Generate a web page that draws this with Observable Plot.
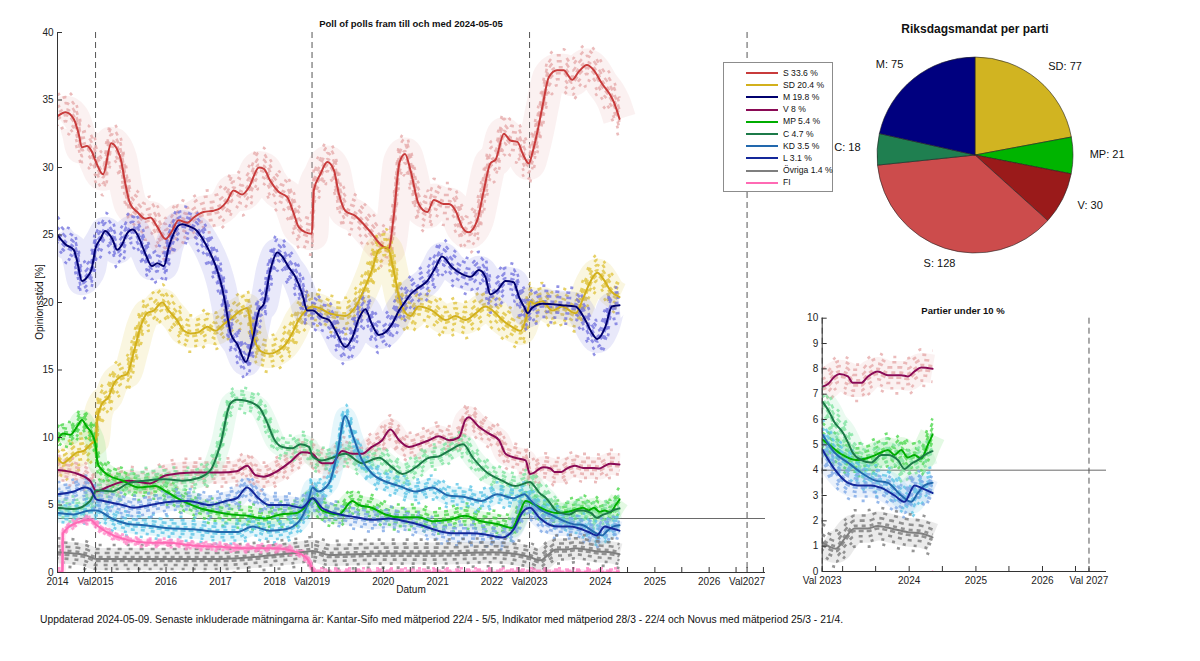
<!DOCTYPE html>
<html><head><meta charset="utf-8">
<script src="https://cdn.jsdelivr.net/npm/d3@7"></script>
<script src="https://cdn.jsdelivr.net/npm/@observablehq/plot@0.6"></script>
<style>
body{margin:0;background:#fff;font-family:"Liberation Sans",Arial,Helvetica,sans-serif;}
#wrap{position:relative;width:1200px;height:661px;overflow:hidden;background:#fff}
.abs{position:absolute;white-space:nowrap;color:#111;line-height:1}
</style></head><body><div id="wrap"></div>
<script>
// ---------- DATA ----------
const parties = ["S","SD","M","V","MP","C","KD","L","Övriga","FI"];
const latest  = [33.6,20.4,19.8,8,5.4,4.7,3.5,3.1,1.4,null];

// trend lines: [decimal year, percent]
const S = [[2014.00,33.8],[2014.15,34.1],[2014.30,33.6],[2014.39,32.5],[2014.45,31.5],[2014.54,31.6],[2014.63,31.2],[2014.70,30.5],[2014.84,29.5],[2014.99,31.8],[2015.16,30.7],[2015.25,28.8],[2015.34,27.3],[2015.47,26.7],[2015.62,26.2],[2015.71,26.3],[2015.84,25.6],[2015.99,24.7],[2016.11,25.3],[2016.23,26.1],[2016.39,25.9],[2016.51,26.3],[2016.69,26.7],[2016.87,26.8],[2017.00,27.0],[2017.12,27.5],[2017.24,28.3],[2017.40,28.0],[2017.52,28.5],[2017.71,30.0],[2017.80,29.9],[2017.92,29.0],[2018.07,28.2],[2018.23,27.8],[2018.35,26.6],[2018.44,25.6],[2018.57,25.2],[2018.685,25.1],[2018.72,28.3],[2018.84,29.5],[2018.97,30.4],[2019.09,29.8],[2019.18,28.1],[2019.30,26.8],[2019.49,26.4],[2019.64,25.8],[2019.79,25.1],[2019.95,24.3],[2020.10,24.0],[2020.19,26.3],[2020.30,30.4],[2020.40,31.0],[2020.50,29.8],[2020.65,27.3],[2020.81,26.7],[2020.93,27.6],[2021.11,27.3],[2021.21,27.3],[2021.33,26.8],[2021.45,25.6],[2021.57,25.2],[2021.73,26.1],[2021.85,28.3],[2021.97,30.3],[2022.07,30.6],[2022.22,32.5],[2022.34,32.0],[2022.47,31.9],[2022.57,31.0],[2022.68,30.3],[2022.74,31.0],[2022.83,32.5],[2022.93,34.5],[2023.05,36.7],[2023.20,37.2],[2023.32,37.2],[2023.48,36.5],[2023.60,37.1],[2023.75,37.6],[2023.88,37.2],[2024.03,36.2],[2024.16,35.5],[2024.25,34.8],[2024.35,33.6]];
const SD = [[2014.00,8.5],[2014.10,8.1],[2014.24,8.5],[2014.36,8.9],[2014.48,9.0],[2014.61,9.5],[2014.70,9.8],[2014.74,11.5],[2014.82,12.5],[2014.94,13.0],[2015.04,14.0],[2015.16,14.5],[2015.28,14.7],[2015.41,16.4],[2015.53,18.2],[2015.65,19.2],[2015.77,19.4],[2015.93,20.0],[2016.05,19.4],[2016.20,18.7],[2016.33,17.9],[2016.45,17.7],[2016.60,17.8],[2016.76,18.2],[2016.91,17.9],[2017.06,18.4],[2017.22,18.9],[2017.37,19.4],[2017.49,19.6],[2017.59,17.7],[2017.74,16.4],[2017.90,16.2],[2018.05,16.4],[2018.20,16.9],[2018.32,17.7],[2018.44,18.7],[2018.57,19.4],[2018.69,19.7],[2018.87,19.5],[2019.00,19.2],[2019.30,19.0],[2019.49,19.7],[2019.64,20.9],[2019.79,22.4],[2019.92,23.9],[2020.04,24.1],[2020.10,23.9],[2020.19,22.4],[2020.29,20.4],[2020.38,19.4],[2020.50,19.0],[2020.65,19.7],[2020.90,19.4],[2021.15,18.7],[2021.33,19.0],[2021.51,18.7],[2021.70,19.2],[2021.88,19.7],[2022.07,19.2],[2022.19,18.7],[2022.37,18.2],[2022.53,17.9],[2022.62,18.7],[2022.71,20.1],[2022.78,19.9],[2022.93,20.1],[2023.11,19.4],[2023.29,19.7],[2023.54,19.2],[2023.69,20.4],[2023.82,21.6],[2023.94,22.2],[2024.06,21.7],[2024.18,20.9],[2024.35,20.4]];
const M = [[2014.00,25.0],[2014.15,24.3],[2014.30,23.9],[2014.36,23.1],[2014.45,21.6],[2014.55,21.9],[2014.63,22.5],[2014.70,24.0],[2014.79,24.7],[2014.88,25.3],[2015.01,24.7],[2015.10,23.9],[2015.19,24.3],[2015.28,25.1],[2015.39,25.4],[2015.50,24.8],[2015.62,23.6],[2015.74,22.7],[2015.84,22.9],[2015.96,22.7],[2016.05,24.1],[2016.14,25.1],[2016.23,25.7],[2016.30,25.8],[2016.45,25.6],[2016.57,25.3],[2016.69,24.6],[2016.82,23.6],[2016.94,22.4],[2017.03,21.1],[2017.09,19.9],[2017.19,17.7],[2017.31,16.9],[2017.47,15.6],[2017.59,17.2],[2017.71,19.4],[2017.80,19.9],[2017.92,22.4],[2018.05,23.7],[2018.14,23.4],[2018.26,22.6],[2018.38,21.9],[2018.51,20.6],[2018.60,19.4],[2018.70,19.4],[2018.87,18.9],[2019.00,18.7],[2019.12,17.9],[2019.30,16.7],[2019.43,17.4],[2019.55,18.8],[2019.67,19.5],[2019.79,18.4],[2019.92,17.6],[2020.04,17.8],[2020.16,18.4],[2020.29,19.4],[2020.41,20.1],[2020.50,20.6],[2020.65,21.1],[2020.81,21.6],[2020.96,22.6],[2021.08,23.4],[2021.27,22.6],[2021.45,22.1],[2021.61,21.9],[2021.76,22.4],[2021.88,21.9],[2021.97,20.6],[2022.10,20.9],[2022.25,21.6],[2022.40,21.5],[2022.50,20.4],[2022.59,19.7],[2022.66,19.2],[2022.74,19.6],[2022.93,19.9],[2023.29,19.8],[2023.54,19.7],[2023.72,18.7],[2023.85,17.7],[2023.94,17.3],[2024.09,18.2],[2024.21,19.7],[2024.35,19.8]];
const V = [[2014.00,7.6],[2014.30,7.4],[2014.60,6.8],[2014.72,6.0],[2014.90,6.3],[2015.30,6.8],[2015.70,6.6],[2016.00,7.2],[2016.50,7.4],[2017.00,7.4],[2017.30,7.5],[2017.49,7.9],[2017.65,7.2],[2017.80,7.1],[2018.00,7.4],[2018.29,8.2],[2018.51,8.9],[2018.69,8.8],[2018.87,8.1],[2019.06,8.1],[2019.24,9.0],[2019.43,8.8],[2019.61,8.8],[2019.79,9.3],[2019.98,9.8],[2020.13,10.6],[2020.29,9.8],[2020.47,9.3],[2020.65,9.5],[2020.84,9.8],[2021.02,10.1],[2021.21,9.8],[2021.39,10.0],[2021.51,11.3],[2021.57,11.5],[2021.76,10.8],[2021.94,10.3],[2022.13,9.8],[2022.25,8.8],[2022.43,8.5],[2022.62,8.3],[2022.70,7.3],[2022.78,7.4],[2022.88,7.7],[2022.95,7.8],[2023.08,7.7],[2023.15,7.45],[2023.28,7.45],[2023.38,7.7],[2023.53,7.9],[2023.68,7.75],[2023.88,7.75],[2023.98,7.7],[2024.08,7.9],[2024.18,8.05],[2024.35,8.0]];
const MP = [[2014.00,9.8],[2014.10,10.3],[2014.24,10.2],[2014.36,10.8],[2014.45,11.3],[2014.54,10.8],[2014.63,10.3],[2014.70,9.5],[2014.74,8.1],[2014.82,7.6],[2014.94,7.2],[2015.20,6.8],[2015.50,6.3],[2015.80,6.4],[2016.00,6.0],[2016.30,5.3],[2016.60,4.8],[2016.90,4.5],[2017.20,4.3],[2017.50,4.2],[2017.80,4.0],[2018.10,4.3],[2018.40,4.4],[2018.60,5.0],[2018.70,5.5],[2018.87,4.6],[2019.18,4.3],[2019.43,5.3],[2019.55,5.0],[2019.79,4.8],[2020.04,4.3],[2020.29,4.1],[2020.65,4.1],[2020.90,3.8],[2021.20,3.9],[2021.50,4.2],[2021.80,3.8],[2022.10,3.6],[2022.37,3.3],[2022.50,4.3],[2022.62,5.3],[2022.70,5.2],[2022.80,5.0],[2023.00,4.6],[2023.20,4.4],[2023.40,4.5],[2023.58,4.7],[2023.68,4.8],[2023.78,4.6],[2023.88,4.8],[2023.98,4.5],[2024.08,4.6],[2024.18,4.45],[2024.28,5.0],[2024.35,5.4]];
const C = [[2014.00,4.8],[2014.30,4.7],[2014.60,5.3],[2014.72,6.1],[2015.00,6.0],[2015.30,6.6],[2015.60,6.8],[2016.00,6.9],[2016.30,6.8],[2016.60,7.0],[2016.82,7.6],[2017.00,9.5],[2017.18,12.5],[2017.30,12.8],[2017.49,12.7],[2017.72,12.2],[2017.85,11.2],[2018.00,9.8],[2018.14,9.3],[2018.32,9.2],[2018.48,9.5],[2018.63,9.3],[2018.70,8.6],[2018.87,8.3],[2019.06,8.5],[2019.30,8.8],[2019.61,8.1],[2019.92,8.5],[2020.16,7.8],[2020.35,7.3],[2020.60,7.8],[2020.84,8.5],[2021.02,8.6],[2021.20,9.0],[2021.47,9.5],[2021.65,8.5],[2021.88,7.5],[2022.19,6.8],[2022.43,6.4],[2022.70,6.7],[2022.80,6.3],[2022.875,5.9],[2023.00,5.5],[2023.08,5.1],[2023.15,4.7],[2023.28,4.4],[2023.43,4.3],[2023.58,4.6],[2023.68,4.6],[2023.83,4.4],[2023.93,4.05],[2024.03,4.25],[2024.13,4.4],[2024.23,4.6],[2024.35,4.75]];
const KD = [[2014.00,4.4],[2014.30,4.3],[2014.60,4.6],[2014.72,4.6],[2015.00,4.0],[2015.30,3.6],[2015.60,3.5],[2016.00,3.3],[2016.50,3.2],[2017.00,3.0],[2017.30,3.0],[2017.60,3.4],[2017.90,3.1],[2018.20,3.2],[2018.45,3.8],[2018.60,5.0],[2018.70,6.3],[2018.80,6.0],[2019.00,6.6],[2019.15,8.8],[2019.30,11.6],[2019.45,10.0],[2019.60,8.4],[2019.80,7.3],[2020.00,6.8],[2020.30,6.4],[2020.60,6.0],[2020.90,6.3],[2021.20,5.7],[2021.50,5.6],[2021.80,5.3],[2022.10,5.8],[2022.40,5.5],[2022.60,5.8],[2022.70,5.4],[2022.875,4.7],[2023.08,4.3],[2023.28,3.9],[2023.48,3.6],[2023.68,3.5],[2023.88,3.0],[2024.03,2.75],[2024.13,3.1],[2024.23,3.4],[2024.35,3.5]];
const L = [[2014.00,5.8],[2014.30,6.0],[2014.50,6.3],[2014.60,6.2],[2014.72,5.4],[2014.85,5.3],[2015.20,5.0],[2015.41,4.8],[2015.71,5.0],[2016.00,5.2],[2016.40,5.3],[2016.80,5.0],[2017.10,5.3],[2017.30,5.5],[2017.49,6.3],[2017.70,5.5],[2017.90,5.0],[2018.20,5.0],[2018.50,4.8],[2018.70,5.5],[2018.87,4.8],[2019.20,4.3],[2019.50,4.1],[2019.80,3.9],[2020.10,4.0],[2020.40,3.8],[2020.70,3.5],[2021.00,3.1],[2021.30,2.9],[2021.60,2.9],[2021.90,2.8],[2022.19,2.6],[2022.40,3.2],[2022.57,4.5],[2022.70,4.8],[2022.875,4.05],[2023.08,3.5],[2023.23,3.4],[2023.43,3.4],[2023.58,3.3],[2023.78,3.0],[2023.93,2.75],[2024.08,3.4],[2024.18,3.3],[2024.35,3.1]];
const OV = [[2014.00,1.5],[2014.50,1.3],[2014.72,1.0],[2015.00,1.0],[2016.00,1.0],[2017.00,1.0],[2018.00,1.3],[2018.50,1.5],[2018.70,1.6],[2019.00,1.3],[2020.00,1.4],[2021.00,1.4],[2022.00,1.5],[2022.70,1.15],[2022.825,0.95],[2022.90,0.9],[2023.03,1.3],[2023.18,1.7],[2023.38,1.7],[2023.53,1.8],[2023.73,1.7],[2023.98,1.55],[2024.18,1.5],[2024.35,1.35]];
const FI = [[2014.00,0],[2014.09,0],[2014.10,2.9],[2014.36,3.7],[2014.60,3.9],[2014.72,3.5],[2015.00,2.8],[2015.30,2.4],[2015.70,2.2],[2016.00,2.2],[2016.50,2.0],[2017.00,1.9],[2017.50,1.8],[2018.00,1.8],[2018.40,1.5],[2018.60,1.0],[2018.75,0],[2024.35,0]];

const electionDates = ["2014-09-14","2018-09-09","2022-09-11","2026-09-13"];
const mainTickDates = ["2014-01-01","2014-09-14","2016-01-01","2017-01-01","2018-01-01","2018-09-09","2020-01-01","2021-01-01","2022-01-01","2022-09-11","2024-01-01","2025-01-01","2026-01-01","2026-09-13"];
const mainTickLabels = ["2014","Val2015","2016","2017","2018","Val2019","2020","2021","2022","Val2023","2024","2025","2026","Val2027"];
const smallTickDates = ["2022-09-11","2024-01-01","2025-01-01","2026-01-01","2026-09-13"];
const smallTickLabels = ["Val 2023","2024","2025","2026","Val 2027"];
const mainYTicks = [0,5,10,15,20,25,30,35,40];
const smallYTicks = [0,1,2,3,4,5,6,7,8,9,10];

const seatParties = ["SD","MP","V","S","C","M"];
const seats = [77,21,30,128,18,75];
const seatColors = ["#d1b421","#00b400","#9a1a1a","#cc4c4c","#1f7f50","#00007f"];

// ---------- STYLE ----------
const lineColor = {S:"#c83b3b",SD:"#d2b01c",M:"#00006e",V:"#8a0a55",MP:"#00ad00",C:"#1c7a48",KD:"#2268ad",L:"#14289a","Övriga":"#7f7f7f",FI:"#ff6ab4"};
const dotColor  = {S:"#e6aaaa",SD:"#e0c440",M:"#7676de",V:"#e6aaaa",MP:"#4ed84e",C:"#7fe3a0",KD:"#5cc6e6",L:"#7da8e6","Övriga":"#7a7a7a",FI:"#ff8ac8"};
const spread    = {S:1.5,SD:1.3,M:1.3,V:1.0,MP:0.9,C:0.9,KD:0.85,L:0.85,"Övriga":1.0,FI:0.3};
const dashSpec  = [[-14,"3,11",0],[-10,"4,7",5],[-6,"5,5",2],[-2,"4,4",6],[2,"5,3",1],[6,"4,6",3],[10,"3,8",7],[14,"3,12",4]];
const dataBy = {S,SD,M,V,MP,C,KD,L,"Övriga":OV,FI};
const FONT = "Liberation Sans, Arial, Helvetica, sans-serif";

function toDate(y){const yr=Math.floor(y);const a=Date.UTC(yr,0,1),b=Date.UTC(yr+1,0,1);return new Date(a+(y-yr)*(b-a));}
const rows = {};
for (const p of parties) rows[p] = dataBy[p].map(([t,v])=>({party:p,t,date:toDate(t),value:v}));

const wrap = document.getElementById("wrap");
function addText(txt, css){const d=document.createElement("div");d.className="abs";d.textContent=txt;Object.assign(d.style,css);wrap.appendChild(d);return d;}
function halfYears(a,b){const out=[];for(let y=a;y<=b;y++){out.push(new Date(Date.UTC(y,0,1)));out.push(new Date(Date.UTC(y,6,1)));}return out;}

function buildChart({width,height,ml,mr,mt,mb,xDomain,yDomain,ticksX,labelDates,labels,yTicks,filterFrom,lineW,bandScale}){
  const pw = width-ml-mr, ph = height-mt-mb;
  const elections = electionDates.map(d=>new Date(d));
  const marks = [
    Plot.ruleY([4],{stroke:"#6a6a6a",strokeWidth:1}),
    Plot.ruleX(elections.filter(d=>d>=xDomain[0]&&d<=xDomain[1]),{stroke:"#555",strokeDasharray:"6,4",strokeWidth:1})
  ];
  // soft cloud of poll marks around each trend
  for (const p of parties){
    const r = rows[p].filter(d=>d.date>=filterFrom);
    marks.push(Plot.line(r,{x:"date",y:"value",stroke:dotColor[p],strokeWidth:22*spread[p]*bandScale,strokeOpacity:0.16,strokeLinecap:"butt",curve:"monotone-x",clip:true}));
    for (const [off,dash,dofs] of dashSpec){
      marks.push(Plot.line(r,{x:"date",y:"value",dy:off*spread[p]*bandScale,stroke:dotColor[p],strokeWidth:2.6,strokeOpacity:0.8,strokeLinecap:"butt",strokeDasharray:dash,strokeDashoffset:dofs,curve:"monotone-x",clip:true}));
    }
  }
  for (const p of parties){
    const r = rows[p].filter(d=>d.date>=filterFrom);
    marks.push(Plot.line(r,{x:"date",y:"value",stroke:lineColor[p],strokeWidth:lineW,curve:"monotone-x",clip:true}));
  }
  const labelMap = new Map(labelDates.map((d,i)=>[+new Date(d),labels[i]]));
  marks.push(
    Plot.ruleX([xDomain[0]],{stroke:"#333"}),
    Plot.ruleY([yDomain[0]],{stroke:"#333"}),
    Plot.tickX(ticksX,{x:d=>d,insetTop:ph-5,stroke:"#333"}),
    Plot.tickY(yTicks,{y:d=>d,insetRight:pw-5,stroke:"#333"}),
    Plot.axisX(labelDates.map(d=>new Date(d)),{tickSize:0,tickPadding:5,tickFormat:d=>labelMap.get(+d),label:null,fill:"#222"}),
    Plot.axisY(yTicks,{tickSize:0,tickPadding:4,label:null,fill:"#222"})
  );
  return Plot.plot({
    width,height,marginLeft:ml,marginRight:mr,marginTop:mt,marginBottom:mb,
    x:{type:"time",domain:xDomain},
    y:{domain:yDomain},
    style:{fontFamily:FONT,fontSize:"10px",background:"transparent",overflow:"visible"},
    marks
  });
}

// main chart
const mainTicks = halfYears(2014,2026).concat([new Date(Date.UTC(2027,0,1))]).concat(electionDates.map(d=>new Date(d)));
const mainSvg = buildChart({width:780,height:600,ml:57,mr:15,mt:32,mb:28,
  xDomain:[new Date(Date.UTC(2014,0,1)),new Date(Date.UTC(2027,0,15))],yDomain:[0,40],
  ticksX:mainTicks,labelDates:mainTickDates,labels:mainTickLabels,yTicks:mainYTicks,
  filterFrom:new Date(Date.UTC(2000,0,1)),lineW:2,bandScale:1});
mainSvg.style.position="absolute";mainSvg.style.left="0px";mainSvg.style.top="0px";
wrap.appendChild(mainSvg);

// small chart
const smallStart = new Date("2022-09-11");
const smallTicks = halfYears(2023,2026).concat(electionDates.slice(2).map(d=>new Date(d)));
const smallSvg = buildChart({width:420,height:310,ml:41.7,mr:94,mt:27.7,mb:29,
  xDomain:[smallStart,new Date(Date.UTC(2026,11,18))],yDomain:[0,10],
  ticksX:smallTicks,labelDates:smallTickDates,labels:smallTickLabels,yTicks:smallYTicks,
  filterFrom:new Date("2022-09-01"),lineW:2,bandScale:1.3});
smallSvg.style.position="absolute";smallSvg.style.left="780px";smallSvg.style.top="290px";
wrap.appendChild(smallSvg);

// pie
const pieSvg = d3.select(wrap).append("svg").attr("width",400).attr("height",290)
  .style("position","absolute").style("left","800px").style("top","0px");
const g = pieSvg.append("g").attr("transform","translate(175,155)");
const pieData = d3.pie().sort(null).value(d=>d)(seats);
const R = 98;
g.selectAll("path").data(pieData).join("path")
  .attr("d",d3.arc().innerRadius(0).outerRadius(R))
  .attr("fill",(d,i)=>seatColors[i]).attr("stroke","#222").attr("stroke-width",0.6);
const lab = d3.arc().innerRadius(R*1.17).outerRadius(R*1.17);
g.selectAll("text").data(pieData).join("text")
  .attr("x",d=>lab.centroid(d)[0]).attr("y",d=>lab.centroid(d)[1])
  .attr("text-anchor",d=>{const s=Math.sin((d.startAngle+d.endAngle)/2);return s>0.35?"start":s<-0.35?"end":"middle";})
  .attr("dominant-baseline","middle")
  .style("font-family",FONT).style("font-size","11px").attr("fill","#111")
  .text((d,i)=>`${seatParties[i]}: ${seats[i]}`);

// titles and labels
addText("Poll of polls fram till och med 2024-05-05",{left:"411px",top:"19px",transform:"translateX(-50%)",fontSize:"9.5px",fontWeight:"bold"});
addText("Datum",{left:"411px",top:"585px",transform:"translateX(-50%)",fontSize:"10px"});
addText("Opinionsstöd [%]",{left:"40px",top:"302px",transform:"translate(-50%,-50%) rotate(-90deg)",fontSize:"10px"});
addText("Riksdagsmandat per parti",{left:"975px",top:"23px",transform:"translateX(-50%)",fontSize:"12px",fontWeight:"bold"});
addText("Partier under 10 %",{left:"963px",top:"306px",transform:"translateX(-50%)",fontSize:"9.5px",fontWeight:"bold"});
addText("Uppdaterad 2024-05-09. Senaste inkluderade mätningarna är: Kantar-Sifo med mätperiod 22/4 - 5/5, Indikator med mätperiod 28/3 - 22/4 och Novus med mätperiod 25/3 - 21/4.",{left:"40px",top:"615px",fontSize:"10.3px"});

// legend
const leg = document.createElement("div");
Object.assign(leg.style,{position:"absolute",left:"723px",top:"62px",width:"108px",height:"128px",border:"1px solid #8c8c8c",background:"#fff"});
wrap.appendChild(leg);
parties.forEach((p,i)=>{
  const cy = 10 + i*12.2;
  const ln = document.createElement("div");
  Object.assign(ln.style,{position:"absolute",left:"22px",top:(cy-1)+"px",width:"32px",height:"2px",background:lineColor[p]});
  leg.appendChild(ln);
  const t = document.createElement("div");
  t.className="abs";
  t.textContent = latest[i]==null ? p : `${p} ${latest[i]} %`;
  Object.assign(t.style,{left:"59px",top:(cy-4.5)+"px",fontSize:"8.6px"});
  leg.appendChild(t);
});
</script></body></html>
